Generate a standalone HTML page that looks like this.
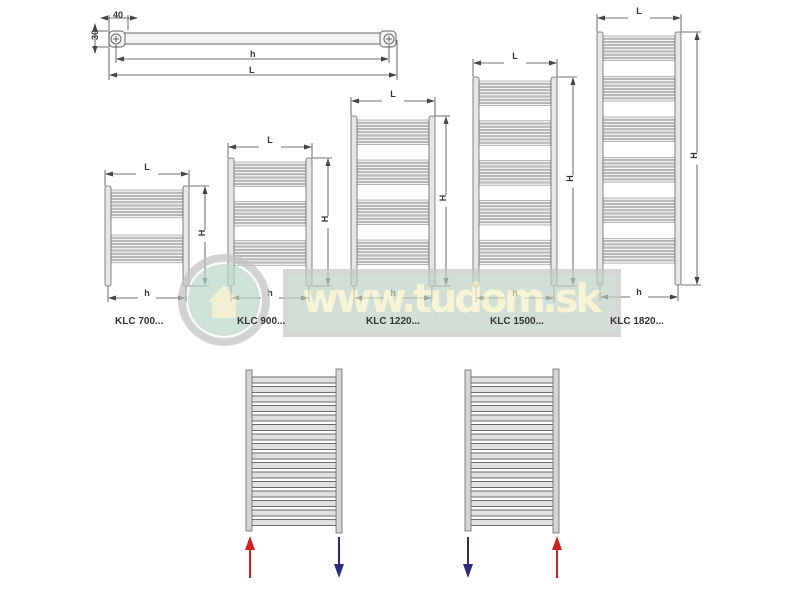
<!DOCTYPE html>
<html><head><meta charset="utf-8"><style>
html,body{margin:0;padding:0;background:#fff;width:800px;height:600px;overflow:hidden}
svg{display:block}
text{font-family:"Liberation Sans",Arial,sans-serif;font-weight:bold;fill:#333}
</style></head><body>
<svg id="s" width="800" height="600" viewBox="0 0 800 600" xmlns="http://www.w3.org/2000/svg">
<defs>
<marker id="a" markerWidth="8" markerHeight="6" refX="7" refY="3" orient="auto-start-reverse" markerUnits="userSpaceOnUse"><path d="M0,0.5 L8,3 L0,5.5z" fill="#444"/></marker>
</defs>
<g stroke="#666" fill="#f4f4f4" stroke-width="1">
<rect x="110" y="33" width="280" height="11" rx="2"/>
<rect x="109" y="31" width="16" height="16" rx="4"/>
<rect x="380" y="31" width="16" height="16" rx="4"/>
<circle cx="116" cy="39" r="5"/><circle cx="389" cy="39" r="5"/>
</g>
<g stroke="#444" stroke-width="0.8" fill="none">
<line x1="116" y1="36" x2="116" y2="42"/><line x1="113" y1="39" x2="119" y2="39"/>
<line x1="389" y1="36" x2="389" y2="42"/><line x1="386" y1="39" x2="392" y2="39"/>
<line x1="109" y1="15" x2="109" y2="80"/><line x1="128" y1="15" x2="128" y2="30"/>
<line x1="101" y1="18" x2="137" y2="18" marker-end="url(#a)" marker-start="url(#a)"/>
<line x1="92" y1="31" x2="108" y2="31"/><line x1="92" y1="47" x2="108" y2="47"/>
<line x1="95" y1="24" x2="95" y2="53" marker-end="url(#a)" marker-start="url(#a)"/>
<line x1="116" y1="45" x2="116" y2="63"/><line x1="389" y1="45" x2="389" y2="63"/>
<line x1="117" y1="59" x2="388" y2="59" marker-end="url(#a)" marker-start="url(#a)"/>
<line x1="397" y1="40" x2="397" y2="80"/>
<line x1="110" y1="75" x2="396" y2="75" marker-end="url(#a)" marker-start="url(#a)"/>
</g>
<text x="113" y="18" font-size="9" font-weight="normal">40</text>
<text x="94" y="44" font-size="9" font-weight="normal" transform="rotate(-90 94 40)">30</text>
<text x="250" y="57" font-size="9">h</text>
<text x="249" y="73" font-size="9">L</text>
<g id="rads"></g>
<g opacity="0.7">
<rect x="283" y="269" width="338" height="68" fill="#c4c8c4"/>
<rect x="288" y="275" width="328" height="56" fill="#bcd8c8" opacity="0.6"/>
<circle cx="224" cy="300" r="42" fill="none" stroke="#c0c2c0" stroke-width="8"/>
<circle cx="224" cy="300" r="36" fill="#bcd8c8"/>
<path d="M208,302 L224,285 L240,302 L236,302 L236,318 L212,318 L212,302z" fill="#efe9c0"/>
<text x="452" y="312" font-size="40" text-anchor="middle" style="fill:#f4f0c4;font-family:'DejaVu Sans',sans-serif" textLength="300">www.tudom.sk</text>
</g>
<g id="labels"></g>
<g id="bottom"></g>
</svg>
<script>
var NS="http://www.w3.org/2000/svg";
function el(p,t,a,txt){var e=document.createElementNS(NS,t);for(var k in a)e.setAttribute(k,a[k]);if(txt)e.textContent=txt;p.appendChild(e);return e;}
var R=document.getElementById("rads");
var rads=[
{l:105,r:183,t:186,b:286,Ly:174,Hx:205,lab:"KLC 700...",lx:115},
{l:228,r:306,t:158,b:286,Ly:147,Hx:328,lab:"KLC 900...",lx:237},
{l:351,r:429,t:116,b:286,Ly:101,Hx:446,lab:"KLC 1220...",lx:366},
{l:473,r:551,t:77,b:286,Ly:63,Hx:573,lab:"KLC 1500...",lx:490},
{l:597,r:675,t:32,b:285,Ly:18,Hx:697,lab:"KLC 1820...",lx:610}];
rads.forEach(function(d){
 var h=d.b-d.t, top=d.t+4, bot=d.b-6;
 var groups=Math.round(h/45);
 var gh=(bot-top)/groups;
 for(var g=0;g<groups;g++){
  var gs=top+g*gh, n=Math.max(5,Math.round(gh*0.65/3.2));
  for(var i=0;i<n;i++){var yy=gs+i*3.2;el(R,"rect",{x:d.l+5,y:yy,width:d.r-d.l-5,height:2.2,fill:"#f2f2f2",stroke:"#8a8a8a","stroke-width":0.6});}
 }
 el(R,"rect",{x:d.l,y:d.t,width:6,height:h,rx:2,fill:"#e6e6e6",stroke:"#666","stroke-width":0.8});
 el(R,"rect",{x:d.r,y:d.t,width:6,height:h,rx:2,fill:"#e6e6e6",stroke:"#666","stroke-width":0.8});
 var g=el(R,"g",{stroke:"#444","stroke-width":0.8,fill:"none"});
 el(g,"line",{x1:d.l,y1:d.Ly-4,x2:d.l,y2:d.t});el(g,"line",{x1:d.r+6,y1:d.Ly-4,x2:d.r+6,y2:d.t});
 el(g,"line",{x1:d.l+1,y1:d.Ly,x2:d.r+5,y2:d.Ly,"marker-start":"url(#a)","marker-end":"url(#a)"});
 el(g,"line",{x1:d.r+6,y1:d.t,x2:d.Hx+4,y2:d.t});el(g,"line",{x1:d.r+6,y1:d.b,x2:d.Hx+4,y2:d.b});
 el(g,"line",{x1:d.Hx,y1:d.t+1,x2:d.Hx,y2:d.b-1,"marker-start":"url(#a)","marker-end":"url(#a)"});
 el(g,"line",{x1:d.l+3,y1:d.b,x2:d.l+3,y2:d.b+16});el(g,"line",{x1:d.r+3,y1:d.b,x2:d.r+3,y2:d.b+16});
 el(g,"line",{x1:d.l+4,y1:d.b+12,x2:d.r+2,y2:d.b+12,"marker-start":"url(#a)","marker-end":"url(#a)"});
 el(R,"rect",{x:(d.l+d.r)/2-8,y:d.Ly-10,width:22,height:12,fill:"#fff"});
 el(R,"text",{x:(d.l+d.r)/2+3,y:d.Ly-4,"font-size":9,"text-anchor":"middle"},"L");
 el(R,"rect",{x:d.Hx-5,y:(d.t+d.b)/2-6,width:10,height:12,fill:"#fff"});
 el(R,"text",{x:d.Hx+3,y:(d.t+d.b)/2,"font-size":9,"text-anchor":"middle",transform:"rotate(-90 "+(d.Hx)+" "+((d.t+d.b)/2)+")"},"H");
 el(R,"rect",{x:(d.l+d.r)/2-6,y:d.b+3,width:18,height:11,fill:"#fff"});
 el(R,"text",{x:(d.l+d.r)/2+3,y:d.b+10,"font-size":9,"text-anchor":"middle"},"h");
 el(document.getElementById("labels"),"text",{x:d.lx,y:324,"font-size":10},d.lab);
});
var B=document.getElementById("bottom");
function brad(l,r){
 for(var i=0;i<16;i++){var y=377+i*9.5;el(B,"rect",{x:l+4,y:y,width:r-l-2,height:6,rx:2.5,fill:"#e0e0e0",stroke:"#6a6a6a","stroke-width":0.9});}
 el(B,"rect",{x:l,y:370,width:6,height:161,fill:"#d4d4d4",stroke:"#666","stroke-width":0.8});
 el(B,"rect",{x:r,y:369,width:6,height:164,fill:"#d4d4d4",stroke:"#666","stroke-width":0.8});
}
function arrow(x,up,c){
 if(up){el(B,"line",{x1:x,y1:578,x2:x,y2:548,stroke:c,"stroke-width":2});el(B,"path",{d:"M"+(x-5)+",550 L"+x+",536 L"+(x+5)+",550z",fill:c});}
 else{el(B,"line",{x1:x,y1:537,x2:x,y2:566,stroke:c,"stroke-width":2});el(B,"path",{d:"M"+(x-5)+",564 L"+x+",578 L"+(x+5)+",564z",fill:c});}
}
brad(246,336);brad(465,553);
arrow(250,true,"#d02020");arrow(339,false,"#2a2a78");
arrow(468,false,"#2a2a78");arrow(557,true,"#d02020");
</script>
</body></html>
